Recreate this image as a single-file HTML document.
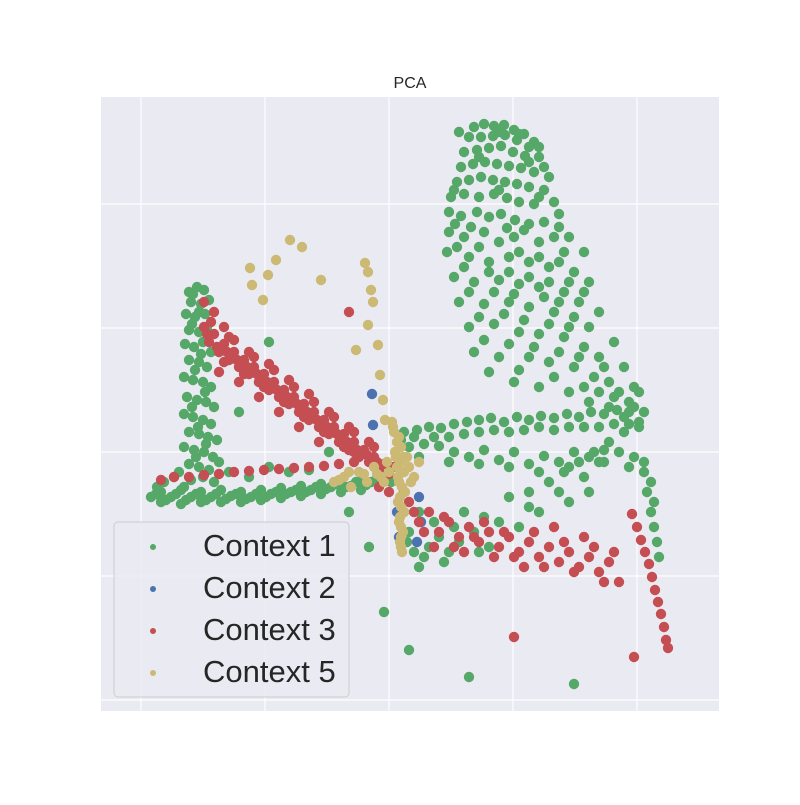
<!DOCTYPE html>
<html><head><meta charset="utf-8"><style>
body{margin:0;background:#fff;width:800px;height:800px;overflow:hidden}
svg text{font-family:"Liberation Sans","DejaVu Sans",sans-serif}
</style></head><body>
<svg id="chart" width="800" height="800" viewBox="0 0 800 800" xmlns="http://www.w3.org/2000/svg">
<rect x="0" y="0" width="800" height="800" fill="#fff"/>
<rect x="101" y="97" width="618" height="614" fill="#eaeaf2"/>
<g id="grid"></g>
<g id="marks"></g>
<text x="410" y="88" text-anchor="middle" font-size="16" fill="#262626">PCA</text>
<g>
<rect x="114" y="522" width="235" height="175" rx="4" fill="#eaeaf2" fill-opacity="0.8" stroke="#cccccc"/>
<g><circle cx="153" cy="547" r="3" fill="#55a868"/><text x="203" y="556" font-size="31" fill="#262626">Context 1</text></g>
<g><circle cx="153" cy="589" r="3" fill="#4c72b0"/><text x="203" y="598" font-size="31" fill="#262626">Context 2</text></g>
<g><circle cx="153" cy="631" r="3" fill="#c44e52"/><text x="203" y="640" font-size="31" fill="#262626">Context 3</text></g>
<g><circle cx="153" cy="673" r="3" fill="#ccb974"/><text x="203" y="682" font-size="31" fill="#262626">Context 5</text></g>
</g>
</svg>
<script>
const xTicks=[-248,-124,0,124,248];
const yTicks=[-248,-124,0,124,248];
const context1=[[-200,160],[-192,165],[-185,162],[-198,150],[-188,148],[-180,152],[-203,138],[-194,135],[-184,138],[-200,122],[-190,120],[-182,125],[-204,108],[-195,105],[-186,110],[-178,100],[-200,92],[-190,90],[-182,85],[-205,75],[-196,72],[-186,70],[-178,65],[-202,55],[-192,52],[-183,50],[-175,45],[-205,38],[-196,35],[-186,32],[-178,28],[-200,20],[-190,18],[-181,15],[-172,12],[-205,5],[-195,2],[-185,0],[-176,-5],[-200,-12],[-190,-15],[-180,-18],[-170,-10],[-210,-20],[-198,-28],[-215,-25],[-225,-30],[-232,-35],
[-196,158],[-190,140],[-197,128],[-188,98],[-194,82],[-184,60],[-197,45],[-191,25],[-183,8],[-193,-5],[-186,-25],[-175,-30],[-205,-35],
[-238,-45],[-228,-40],[-228,-50],[-218,-45],[-208,-38],[-208,-52],[-198,-45],[-188,-40],[-188,-50],[-178,-45],[-168,-38],[-168,-50],[-158,-44],[-148,-40],[-148,-50],[-138,-45],[-128,-38],[-128,-48],[-118,-42],[-108,-36],[-108,-46],[-98,-40],[-88,-34],[-88,-44],[-78,-38],[-68,-32],[-68,-42],[-58,-35],[-48,-30],[-48,-40],[-38,-34],[-28,-28],[-28,-38],[-18,-30],[-8,-25],[2,-30],
[-233,-42],[-223,-48],[-213,-42],[-203,-48],[-193,-42],[-183,-48],[-173,-42],[-163,-47],[-153,-42],[-143,-47],[-133,-42],[-123,-45],[-113,-40],[-103,-42],[-93,-38],[-83,-40],[-73,-35],[-63,-37],[-53,-32],[-43,-35],[-33,-30],[-23,-33],[-13,-28],
[-160,-20],[-140,-25],[-120,-15],[-100,-20],[-80,-18],[-150,40],[-130,70],[-120,110],[-60,0],[-40,-60],[-20,-95],[-5,-160],[20,-198],[80,-225],[185,-232],
[15,20],[28,22],[40,25],[52,24],[65,28],[78,30],[90,32],[102,34],[115,30],[128,35],[140,32],[152,36],[165,34],[178,38],[190,35],[202,40],[215,38],[228,42],[240,40],[250,30],[20,5],[35,8],[50,6],[65,0],[80,-5],[95,2],[110,-8],[125,0],[140,-12],[155,-4],[170,-10],[185,0],[200,-5],[215,2],[230,0],[245,-5],[255,-10],[262,-30],[265,-50],
[12,12],[25,15],[45,15],[60,15],[75,18],[90,20],[105,22],[120,20],[135,22],[150,25],[165,22],[180,25],[195,25],[210,25],[225,28],[240,28],[255,40],[30,-5],[60,-10],[90,-12],[120,-15],[150,-20],[180,-15],[210,-10],[240,-15],
[255,-20],[258,-40],[262,-60],[265,-75],[268,-90],[270,-105],
[85,325],[95,328],[105,326],[115,327],[125,322],[135,318],[145,310],[80,315],[92,315],[104,316],[116,317],[128,312],[140,305],[75,300],[88,302],[100,304],[112,306],[124,300],[136,296],[150,295],[72,285],[84,288],[96,290],[108,288],[120,286],[132,284],[145,280],[160,275],[68,270],[80,272],[92,275],[104,272],[116,270],[128,268],[140,265],[155,262],[165,250],[62,255],[75,258],[90,255],[105,258],[118,254],[130,250],[145,248],[60,240],[72,236],[88,240],[100,235],[112,238],[126,232],[140,228],[155,230],[170,225],[180,215],
[70,320],[110,320],[130,318],[150,305],[90,295],[140,290],[155,285],[65,262],[110,262],[150,255],[170,238],[66,228],[82,225],[118,224],[135,222],[165,215],[68,205],[90,205],[130,200],[150,195],[170,190],[75,185],[100,180],[120,180],[140,175],[160,170],[180,170],[80,160],[105,160],[125,158],[155,155],[170,150],[195,160],[90,135],[115,138],[135,132],[160,128],[180,125],[95,112],[120,108],[145,105],[170,100],[190,95],[215,85],[100,80],[130,82],[165,75],[195,65],[210,60],[225,55],[245,45],[250,60],
[60,220],[75,215],[95,220],[110,210],[125,215],[150,210],[175,200],[58,200],[80,195],[100,190],[120,195],[140,190],[160,185],[185,180],[65,175],[85,170],[110,172],[130,168],[150,165],[175,160],[190,150],[70,150],[95,148],[120,150],[140,145],[165,140],[185,135],[200,125],[80,125],[105,128],[130,120],[150,118],[175,115],[195,105],[210,95],[85,100],[110,95],[140,95],[160,90],[185,85],[205,75],[220,70],[230,60],[240,50],[125,70],[150,65],[180,60],[200,50],[220,45],[235,35],
[195,200],[200,170],[210,140],[225,110],[235,85],[245,65],
[15,-60],[20,-80],[25,-100],[30,-115],[40,-95],[50,-85],[60,-100],[70,-90],[85,-80],[100,-95],[45,-70],[75,-60],[110,-70],[130,-75],[150,-60],[120,-45],[140,-40],[160,-30],[175,-20],[190,-10],[205,0],[220,10],[235,20],[180,-50],[200,-40],
[18,-90],[35,-105],[55,-110],[90,-100],[30,-60],[65,-75],[95,-65],[140,-55],[170,-40],[195,-25],[215,-10],[250,25]];
const context2=[[-17,58],[-16,27],[30,-45],[32,-70],[28,-90],[8,-60],[10,-85]];
const context3=[[-185,125],[-180,110],[-175,118],[-170,100],[-165,108],[-160,92],[-155,100],[-150,85],[-145,92],[-140,78],[-135,85],[-130,70],[-125,78],[-120,62],[-115,70],[-110,55],[-105,62],[-100,48],[-95,55],[-90,40],[-85,48],[-80,32],[-75,40],[-70,25],[-65,32],[-60,18],[-55,25],[-50,10],[-45,18],[-40,2],[-35,10],[-30,-5],[-25,2],[-20,-10],[-15,-5],[-10,-18],[-5,-12],[0,-22],[5,-15],[-170,80],[-150,70],[-130,55],[-110,40],[-90,25],[-70,10],[-160,115],[-140,100],[-120,88],[-100,72],[-80,58],[-60,40],[-40,25],[-20,10],[-175,140],[-185,150],
[-182,118],[-172,105],[-162,100],[-152,92],[-142,85],[-132,78],[-122,70],[-112,62],[-102,55],[-92,48],[-82,40],[-72,32],[-62,25],[-52,18],[-42,10],[-32,2],[-22,-3],[-12,-10],[-165,90],[-145,78],[-125,65],[-105,50],[-85,35],[-65,20],[-45,5],[-178,130],[-165,125],[-155,112],[-135,95],[-115,82],[-95,65],[-75,50],[-55,35],[-35,20],[-15,5],
[-228,-28],[-215,-25],[-200,-25],[-185,-23],[-170,-22],[-155,-20],[-140,-19],[-125,-18],[-110,-17],[-95,-16],[-80,-15],[-65,-14],[-50,-12],[-35,-10],
[20,-50],[30,-70],[40,-60],[50,-80],[60,-70],[70,-85],[80,-75],[90,-90],[100,-80],[110,-95],[120,-85],[130,-100],[140,-90],[150,-105],[160,-95],[170,-110],[180,-100],[190,-115],[200,-105],[210,-120],[220,-110],[230,-130],[45,-95],[75,-100],[105,-105],[135,-115],[165,-75],[195,-85],[125,-185],[245,-205],[-40,140],[-35,0],
[25,-60],[35,-80],[55,-65],[65,-95],[85,-85],[95,-70],[115,-80],[125,-105],[145,-80],[155,-115],[175,-90],[185,-120],[205,-95],[215,-130],[225,-100],[15,-40],[0,-40],[-10,-35],
[243,-62],[248,-75],[252,-88],[256,-100],[260,-112],[263,-125],[266,-138],[269,-150],[272,-162],[275,-175],[277,-188],[279,-196]];
const context5=[[3,30],[5,20],[8,10],[12,5],[6,0],[14,-5],[8,-15],[15,-20],[10,-30],[16,-40],[9,-50],[15,-60],[10,-70],[14,-80],[11,-90],[13,-100],
[4,25],[10,15],[7,-5],[12,-10],[9,-25],[13,-35],[11,-45],[12,-55],[11,-65],[12,-75],[12,-85],[12,-95],
[-55,-30],[-45,-25],[-38,-35],[-30,-20],[-22,-30],[-15,-15],[-8,-25],[-2,-10],[20,-15],[25,-25],[30,-10],
[-50,-28],[-40,-20],[-25,-22],[-12,-22],[0,-20],[-5,-30],[18,-5],[22,-30],
[-99,212],[-87,205],[-113,192],[-121,177],[-139,184],[-137,167],[-126,152],[-68,172],[-24,189],[-21,180],[-18,162],[-16,150],[-21,127],[-11,107],[-33,102],[-9,77],[-6,52],[-4,32]];

const NS='http://www.w3.org/2000/svg';
const xScale=v=>389+v;
const yScale=v=>452-v;
const grid=document.getElementById('grid');
xTicks.forEach(t=>{const l=document.createElementNS(NS,'line');


l.setAttribute('x1',xScale(t));l.setAttribute('x2',xScale(t));l.setAttribute('y1',97);l.setAttribute('y2',711);l.setAttribute('stroke','#fff');l.setAttribute('stroke-width','1.2');grid.appendChild(l);});
yTicks.forEach(t=>{const l=document.createElementNS(NS,'line');


l.setAttribute('y1',yScale(t));l.setAttribute('y2',yScale(t));l.setAttribute('x1',101);l.setAttribute('x2',719);l.setAttribute('stroke','#fff');l.setAttribute('stroke-width','1.2');grid.appendChild(l);});
const marks=document.getElementById('marks');
function draw(arr,color,name){arr.forEach(p=>{const c=document.createElementNS(NS,'circle');


c.setAttribute('cx',xScale(p[0]));c.setAttribute('cy',yScale(p[1]));c.setAttribute('r',5.2);c.setAttribute('fill',color);marks.appendChild(c);});}
draw(context1,'#55a868','context-1-point');
draw(context2,'#4c72b0','context-2-point');
draw(context3,'#c44e52','context-3-point');
draw(context5,'#ccb974','context-5-point');
</script>
</body></html>
